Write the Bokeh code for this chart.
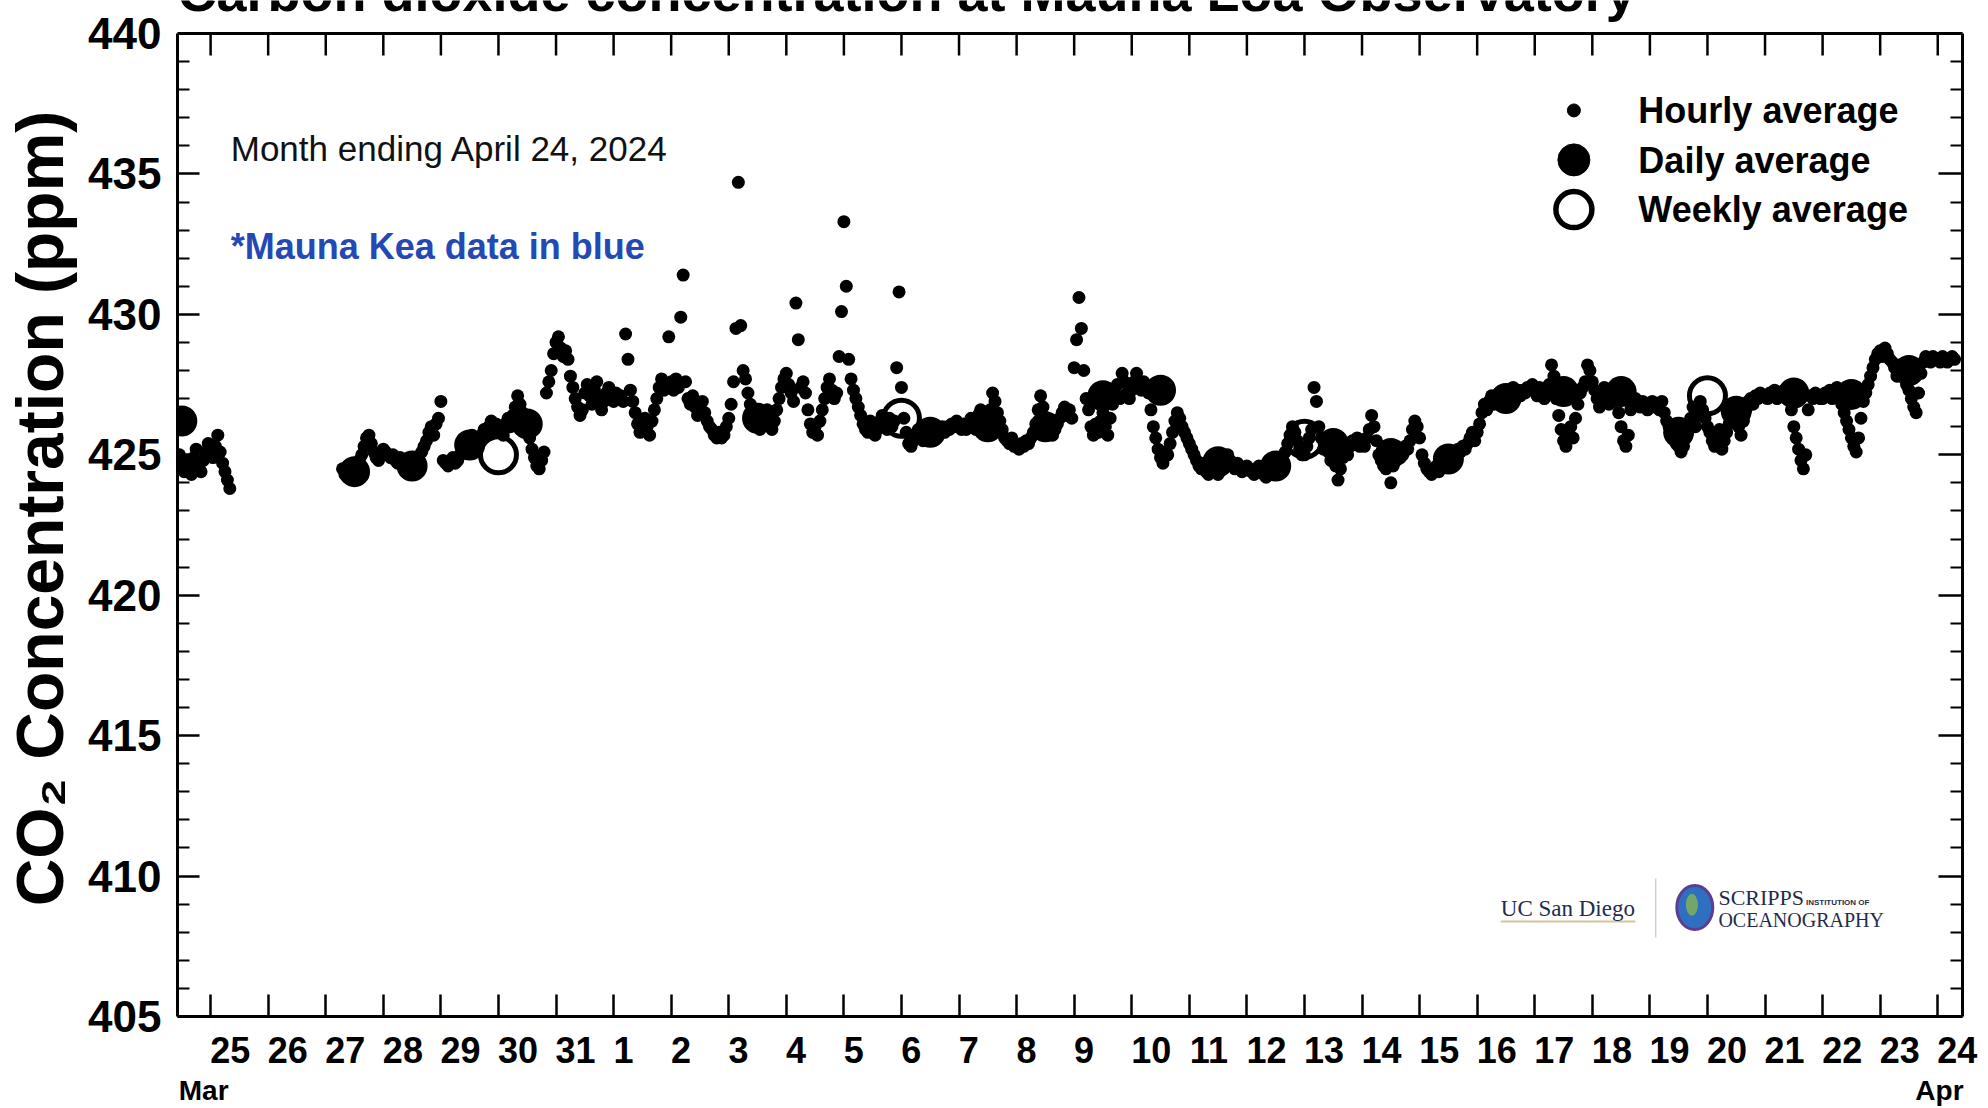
from bokeh.plotting import figure
from bokeh.models import (Range1d, LinearAxis, FixedTicker, CustomJSTickFormatter, Label)
from bokeh.embed import file_html
from bokeh.resources import INLINE

# ---------------- data (x = days after Mar 25 00:00) ----------------
day_labels = ["25", "26", "27", "28", "29", "30", "31", "1", "2", "3", "4", "5", "6", "7",
              "8", "9", "10", "11", "12", "13", "14", "15", "16", "17", "18", "19", "20",
              "21", "22", "23", "24"]
month_labels = ["Mar", "Apr"]
month_pos = [-0.12, 30.03]
y_major = [405, 410, 415, 420, 425, 430, 435, 440]

# hourly averages (ppm); each list starts at the given hour of that day
h_mar24 = [425.0, 424.6, 424.4, 424.8, 424.5, 424.3, 424.9, 425.2, 424.6, 424.4, 424.8, 425.1, 425.4]
h_mar25 = [425.2, 424.9, 425.3, 425.7, 425.1, 424.7, 424.4, 424.1, 423.8]
h_mar27 = [424.5, 424.3, 424.2, 424.4, 424.3, 424.4, 424.6, 424.8, 425.0, 425.3, 425.6, 425.7,
           425.4, 425.1, 424.9, 424.8, 425.0]
h_mar28 = [425.2, 425.1, 425.0, 424.9, 425.0, 424.8, 424.7, 424.9, 424.6, 424.5, 424.4, 424.5,
           424.6, 424.7, 424.5, 424.8, 425.1, 425.3, 425.5, 425.8, 426.0, 425.7, 426.1, 426.3]
h_mar29 = [426.9, 424.8, 424.7, 424.6, 424.8, 424.9, 424.7, 424.8, 425.0, 425.3, 425.5, 425.2,
           425.4, 425.7, 425.6, 425.3, 425.4, 425.7, 425.9, 425.8, 426.0, 426.2, 425.9, 426.1]
h_mar30 = [425.8, 426.0, 425.7, 426.1, 426.3, 426.0, 426.4, 426.7, 427.1, 426.8, 426.5, 426.3,
           426.0, 425.6, 425.2, 424.9, 424.6, 424.5, 424.8, 425.1, 427.2, 427.6, 428.0, 428.6]
h_mar31 = [429.0, 429.2, 428.8, 428.5, 428.7, 428.4, 427.8, 427.4, 427.0, 426.7, 426.4, 426.6,
           427.2, 427.5, 427.1, 426.8, 427.3, 427.6, 427.0, 426.6, 426.9, 427.2, 427.4, 427.0]
h_apr01 = [426.9, 427.2, 427.0, 427.1, 426.9, 429.3, 428.4, 427.3, 426.9, 426.5, 426.1, 425.8,
           425.9, 426.3, 426.0, 425.7, 426.2, 426.6, 427.0, 427.4, 427.7, 427.3, 427.5, 429.2]
h_apr02 = [427.6, 427.3, 427.7, 427.4, 429.9, 431.4, 427.6, 427.0, 426.8, 427.1, 426.7, 426.4,
           426.7, 426.9, 426.5, 426.2, 426.0, 425.9, 425.7, 425.6, 425.8, 425.6, 425.7, 426.0]
h_apr03 = [426.3, 426.8, 427.6, 429.5, 434.7, 429.6, 428.0, 427.7, 427.2, 426.8, 426.4, 426.2,
           426.0, 425.9, 426.1, 426.4, 426.6, 426.3, 425.9, 426.2, 426.6, 427.0, 427.4, 427.7]
h_apr04 = [427.9, 427.5, 427.2, 426.9, 430.4, 429.1, 427.4, 427.6, 427.2, 426.6, 426.1, 425.8,
           426.0, 425.7, 426.2, 426.6, 427.0, 427.4, 427.7, 427.3, 427.0, 427.2, 428.5, 430.1]
h_apr05 = [433.3, 431.0, 428.4, 427.7, 427.3, 427.0, 426.7, 426.4, 426.1, 425.9, 425.8, 426.2,
           426.0, 425.7, 425.9, 426.2, 426.4, 426.1, 425.9, 426.3, 426.0, 426.2, 428.1, 430.8]
h_apr06 = [427.4, 426.3, 425.8, 425.4, 425.3, 425.5, 425.7, 425.9, 425.7, 425.5, 425.6, 425.8,
           425.7, 425.6, 425.9, 425.8, 425.9, 426.0, 425.8, 426.0, 425.9, 426.1, 426.0, 426.2]
h_apr07 = [426.0, 425.9, 426.1, 425.9, 426.0, 426.3, 426.2, 425.9, 426.4, 426.6, 426.3, 425.9,
           426.0, 426.6, 427.2, 426.9, 426.5, 426.2, 425.9, 425.6, 425.5, 425.4, 425.6, 425.3]
h_apr08 = [425.3, 425.2, 425.4, 425.3, 425.5, 425.4, 425.6, 425.8, 426.1, 426.6, 427.1, 426.7,
           426.3, 426.0, 425.9, 425.7, 425.9, 426.1, 426.3, 426.5, 426.7, 426.4, 426.6, 426.3]
h_apr09 = [428.1, 429.1, 430.6, 429.5, 428.0, 427.0, 426.6, 426.0, 425.7, 426.1, 425.8, 426.2,
           426.5, 426.0, 425.7, 426.3, 426.8, 427.2, 427.5, 427.0, 427.9, 427.6, 427.2, 427.0]
h_apr10 = [427.3, 427.6, 427.9, 427.5, 427.3, 427.6, 427.4, 427.2, 426.6, 426.0, 425.6, 425.2,
           424.9, 424.7, 425.1, 425.0, 425.4, 425.8, 426.2, 426.5, 426.3, 426.0, 425.8, 425.6]
h_apr11 = [425.4, 425.2, 425.0, 424.8, 424.6, 424.5, 424.7, 424.4, 424.3, 424.5, 424.6, 424.4,
           424.3, 424.5, 424.7, 424.9, 425.0, 424.8, 424.6, 424.5, 424.7, 424.6, 424.4, 424.5]
h_apr12 = [424.6, 424.5, 424.4, 424.3, 424.5, 424.6, 424.4, 424.3, 424.2, 424.4, 424.5, 424.7,
           424.6, 424.4, 424.5, 424.8, 425.1, 425.4, 425.7, 426.0, 425.8, 425.5, 425.2, 425.0]
h_apr13 = [425.0, 425.3, 425.6, 425.9, 427.4, 426.9, 426.0, 425.6, 425.2, 425.4, 425.1, 424.8,
           425.0, 424.6, 424.1, 424.5, 424.9, 425.2, 425.0, 425.3, 425.5, 425.4, 425.6, 425.3]
h_apr14 = [425.5, 425.3, 425.6, 425.9, 426.4, 426.0, 425.5, 425.0, 424.8, 424.6, 424.5, 424.8,
           424.0, 424.6, 424.9, 425.1, 424.9, 425.0, 425.3, 425.2, 425.5, 425.9, 426.2, 426.0]
h_apr15 = [425.6, 425.0, 424.7, 424.5, 424.4, 424.3, 424.5, 424.6, 424.4, 424.6, 424.7, 424.8,
           424.9, 424.7, 424.9, 425.0, 425.2, 425.1, 425.3, 425.2, 425.4, 425.6, 425.8, 425.5]
h_apr16 = [425.8, 426.1, 426.5, 426.8, 426.6, 426.9, 427.1, 426.8, 427.0, 427.2, 426.9, 427.1,
           427.3, 427.0, 427.2, 427.4, 427.2, 427.3, 427.1, 427.3, 427.2, 427.4, 427.3, 427.5]
h_apr17 = [427.3, 427.1, 427.4, 427.2, 427.0, 427.3, 427.5, 428.2, 427.8, 427.0, 426.4, 425.9,
           425.5, 425.3, 425.7, 426.0, 425.6, 426.3, 426.8, 427.2, 427.4, 427.6, 428.2, 428.0]
h_apr18 = [427.6, 427.3, 427.0, 426.7, 427.1, 427.4, 427.2, 426.8, 427.0, 426.9, 427.3, 426.5,
           426.0, 425.5, 425.3, 425.7, 426.6, 426.8, 427.0, 426.9, 426.7, 426.9, 426.8, 426.6]
h_apr19 = [426.8, 426.9, 426.7, 426.8, 426.6, 426.9, 426.5, 426.2, 426.0, 425.8, 425.6, 425.4,
           425.3, 425.1, 425.3, 425.6, 425.9, 426.3, 426.7, 426.0, 426.4, 426.9, 426.6, 426.3]
h_apr20 = [426.0, 425.8, 425.5, 425.3, 425.6, 425.9, 425.2, 425.5, 425.8, 426.1, 426.4, 426.7,
           426.3, 426.0, 425.7, 426.2, 426.6, 426.9, 427.0, 426.8, 427.1, 427.0, 427.2, 427.1]
h_apr21 = [427.1, 427.0, 427.2, 427.1, 427.3, 427.0, 427.2, 427.1, 427.3, 427.0, 427.2, 426.6,
           426.0, 425.6, 425.2, 424.8, 424.5, 425.0, 426.6, 427.1, 427.0, 427.2, 427.1, 427.0]
h_apr22 = [427.0, 427.2, 427.1, 427.3, 427.0, 427.2, 427.4, 427.1, 426.8, 426.5, 426.2, 425.9,
           425.6, 425.3, 425.1, 425.6, 426.3, 426.9, 427.2, 427.5, 427.8, 428.1, 428.4, 428.6]
h_apr23 = [428.7, 428.5, 428.8, 428.6, 428.4, 428.3, 428.1, 427.8, 428.2, 428.0, 427.8, 427.5,
           427.3, 427.0, 426.7, 426.5, 427.2, 427.9, 428.3, 428.5, 428.4, 428.3, 428.5, 428.4]
h_apr24 = [428.4, 428.3, 428.5, 428.4, 428.3, 428.4, 428.5, 428.4]

# (day offset, first hour, values)
hourly_days = [(-1, 11, h_mar24), (0, 0, h_mar25), (2, 7, h_mar27), (3, 0, h_mar28),
               (4, 0, h_mar29), (5, 0, h_mar30), (6, 0, h_mar31), (7, 0, h_apr01),
               (8, 0, h_apr02), (9, 0, h_apr03), (10, 0, h_apr04), (11, 0, h_apr05),
               (12, 0, h_apr06), (13, 0, h_apr07), (14, 0, h_apr08), (15, 0, h_apr09),
               (16, 0, h_apr10), (17, 0, h_apr11), (18, 0, h_apr12), (19, 0, h_apr13),
               (20, 0, h_apr14), (21, 0, h_apr15), (22, 0, h_apr16), (23, 0, h_apr17),
               (24, 0, h_apr18), (25, 0, h_apr19), (26, 0, h_apr20), (27, 0, h_apr21),
               (28, 0, h_apr22), (29, 0, h_apr23), (30, 0, h_apr24)]

daily_day = [-0.5, 2.5, 3.5, 4.5, 5.5, 9.5, 12.5, 13.5, 14.5, 15.5, 16.5, 17.5, 18.5, 19.5,
             20.5, 21.5, 22.5, 23.5, 24.5, 25.5, 26.5, 27.5, 28.5, 29.5]
daily_ppm = [426.2, 424.4, 424.6, 425.35, 426.1, 426.3, 425.8, 426.0, 426.0, 427.1, 427.3,
             424.75, 424.6, 425.4, 425.05, 424.85, 427.0, 427.25, 427.25, 425.8, 426.55,
             427.2, 427.15, 428.0]

weekly_day = [5, 12, 19, 26]
weekly_ppm = [425.0, 426.3, 425.55, 427.1]

# ---------------- layout constants ----------------
FONT = "Liberation Sans"
X0, X1 = -0.575, 30.43
Y0, Y1 = 405, 440
FRAME_TOP_PX = 33          # plot box starts this far below the canvas top
BOX_H_PX = 983             # height of the 405..440 box
PX_PER_PPM = BOX_H_PX / (Y1 - Y0)
Y_TOP = Y1 + FRAME_TOP_PX / PX_PER_PPM   # data value at the canvas top

hx, hy = [], []
for d, h0, vals in hourly_days:
    for i, v in enumerate(vals):
        hx.append(d + (h0 + i) / 24.0)
        hy.append(v)

p = figure(width=1988, height=1108, output_backend="svg", toolbar_location=None,
           x_range=Range1d(X0, X1), y_range=Range1d(Y0, Y_TOP),
           x_axis_location=None, y_axis_location=None,
           min_border_left=177, min_border_right=26, min_border_top=0, min_border_bottom=92)
p.grid.visible = False
p.outline_line_color = None
p.background_fill_color = "white"
p.border_fill_color = "white"

day_ticks = list(range(len(day_labels)))
y_minor = [v for v in range(Y0, Y1 + 1) if v % 5]


def ticks_only(ax, major_len=22, minor_len=12):
    ax.major_label_text_font_size = "1px"
    ax.major_label_text_color = None
    ax.major_label_standoff = 0
    ax.axis_line_width = 3
    ax.axis_line_color = "black"
    ax.major_tick_in = major_len
    ax.major_tick_out = 0
    ax.major_tick_line_width = 2.5
    ax.minor_tick_in = minor_len
    ax.minor_tick_out = 0
    ax.minor_tick_line_width = 2


# left axis with labels
left = LinearAxis(ticker=FixedTicker(ticks=y_major, minor_ticks=y_minor), bounds=(Y0, Y1))
left.axis_line_width = 3
left.major_tick_in = 22
left.major_tick_out = 0
left.major_tick_line_width = 2.5
left.minor_tick_in = 12
left.minor_tick_out = 0
left.minor_tick_line_width = 2
left.major_label_text_font = FONT
left.major_label_text_font_style = "bold"
left.major_label_text_font_size = "44px"
left.major_label_text_color = "black"
left.major_label_standoff = 16
left.axis_label = "CO\u2082 Concentration (ppm)"
left.axis_label_text_font = FONT
left.axis_label_text_font_style = "bold"
left.axis_label_text_font_size = "66px"
left.axis_label_text_color = "black"
left.axis_label_standoff = 8
p.add_layout(left, "left")

right = LinearAxis(ticker=FixedTicker(ticks=y_major, minor_ticks=y_minor), bounds=(Y0, Y1))
ticks_only(right, 24, 12)
p.add_layout(right, "right")

bottom_ticks = LinearAxis(ticker=FixedTicker(ticks=day_ticks, minor_ticks=[]))
ticks_only(bottom_ticks)
p.add_layout(bottom_ticks, "below")

# day labels sit just right of their tick (left-aligned look)
label_pos = [d + 0.17 * len(s) for d, s in zip(day_ticks, day_labels)]
bottom_labels = LinearAxis(ticker=FixedTicker(ticks=label_pos, minor_ticks=[]),
                           formatter=CustomJSTickFormatter(args=dict(labels=day_labels),
                                                           code="return labels[index];"))
bottom_labels.axis_line_color = None
bottom_labels.major_tick_line_color = None
bottom_labels.minor_tick_line_color = None
bottom_labels.major_tick_in = 0
bottom_labels.major_tick_out = 0
bottom_labels.major_label_standoff = 20
bottom_labels.major_label_text_font = FONT
bottom_labels.major_label_text_font_style = "bold"
bottom_labels.major_label_text_font_size = "36px"
bottom_labels.major_label_text_color = "black"
p.add_layout(bottom_labels, "below")

month_axis = LinearAxis(ticker=FixedTicker(ticks=month_pos, minor_ticks=[]),
                        formatter=CustomJSTickFormatter(args=dict(labels=month_labels),
                                                        code="return labels[index];"))
month_axis.axis_line_color = None
month_axis.major_tick_line_color = None
month_axis.minor_tick_line_color = None
month_axis.major_tick_in = 0
month_axis.major_tick_out = 0
month_axis.major_label_standoff = 9
month_axis.major_label_text_font = FONT
month_axis.major_label_text_font_style = "bold"
month_axis.major_label_text_font_size = "28px"
month_axis.major_label_text_color = "black"
p.add_layout(month_axis, "below")

# top edge of the box with inward day ticks
TOP_TICK = 22 / PX_PER_PPM
p.segment(x0=[X0], y0=[Y1], x1=[X1], y1=[Y1], line_color="black", line_width=3)
p.segment(x0=day_ticks, y0=[Y1] * len(day_ticks), x1=day_ticks,
          y1=[Y1 - TOP_TICK] * len(day_ticks), line_color="black", line_width=2.5)

# ---------------- data marks ----------------
p.scatter(x=hx, y=hy, size=13, marker="circle", fill_color="black", line_color="black",
          line_width=0)
p.scatter(x=daily_day, y=daily_ppm, size=31, marker="circle", fill_color="black",
          line_color="black", line_width=0)
p.scatter(x=weekly_day, y=weekly_ppm, size=36, marker="circle", fill_color=None,
          line_color="black", line_width=5)

# ---------------- legend ----------------
LEG_X, LEG_TX = 23.68, 24.80
p.scatter(x=[LEG_X], y=[437.26], size=13, marker="circle", color="black")
p.scatter(x=[LEG_X], y=[435.50], size=32, marker="circle", color="black")
p.scatter(x=[LEG_X], y=[433.73], size=36, marker="circle", fill_color=None,
          line_color="black", line_width=5.5)
for txt, yy in [("Hourly average", 437.26), ("Daily average", 435.48),
                ("Weekly average", 433.73)]:
    p.add_layout(Label(x=LEG_TX, y=yy, text=txt, text_font=FONT, text_font_style="bold",
                       text_font_size="36px", text_color="black", text_baseline="middle"))

# ---------------- texts ----------------
p.add_layout(Label(x=X0, y=441.46, text="Carbon dioxide concentration at Mauna Loa Observatory",
                   text_font=FONT, text_font_style="bold", text_font_size="54px",
                   text_color="black", text_baseline="middle"))
p.add_layout(Label(x=0.35, y=435.89, text="Month ending April 24, 2024", text_font=FONT,
                   text_font_size="35px", text_color="#111111", text_baseline="middle"))
p.add_layout(Label(x=0.35, y=432.42, text="*Mauna Kea data in blue", text_font=FONT,
                   text_font_style="bold", text_font_size="36px", text_color="#2349b5",
                   text_baseline="middle"))

# ---------------- logos ----------------
LOGO = "#1f2d4d"
p.add_layout(Label(x=22.41, y=408.86, text="UC San Diego", text_font="Liberation Serif",
                   text_font_size="23px", text_color=LOGO, text_baseline="middle"))
p.segment(x0=[22.41], y0=[408.38], x1=[24.75], y1=[408.38], line_color="#d3c59a", line_width=2)
p.segment(x0=[25.10], y0=[409.91], x1=[25.10], y1=[407.81], line_color="#cfcfcf", line_width=1.5)
p.ellipse(x=[25.78], y=[408.88], width=[36], height=[44], width_units="screen",
          height_units="screen", fill_color="#2f6fbf", line_color="#5a3e94", line_width=3)
p.ellipse(x=[25.73], y=[408.98], width=[12], height=[22], width_units="screen",
          height_units="screen", fill_color="#7fb25a", line_color=None, fill_alpha=0.85)
p.add_layout(Label(x=26.19, y=409.24, text="SCRIPPS", text_font="Liberation Serif",
                   text_font_size="22px", text_color=LOGO, text_baseline="middle"))
p.add_layout(Label(x=27.71, y=409.06, text="INSTITUTION OF", text_font=FONT,
                   text_font_style="bold", text_font_size="8px", text_color=LOGO,
                   text_baseline="middle"))
p.add_layout(Label(x=26.19, y=408.45, text="OCEANOGRAPHY", text_font="Liberation Serif",
                   text_font_size="20px", text_color=LOGO, text_baseline="middle"))

open("out.html", "w").write(file_html(p, INLINE))
